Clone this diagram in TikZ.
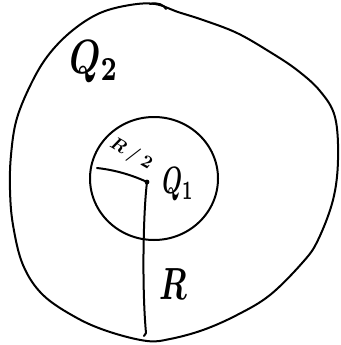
\documentclass[tikz,border=0pt]{standalone}
\begin{document}
\begin{tikzpicture}[x=1pt,y=-1pt,line width=2pt,line cap=round,line join=round,
  lbl/.style={inner sep=0pt,font=\boldmath}]
\useasboundingbox (0,0) rectangle (340,345);
% outer region
\draw plot[smooth cycle,tension=0.6] coordinates {
  (130,5) (155,4) (178,12) (203,20) (237,33) (270,52) (297,70) (320,91) (335,117)
  (338,160) (333,200) (318,240) (303,262) (270,295) (237,315) (203,330) (170,339)
  (147,341) (110,332) (77,318) (43,295) (23,265) (13,225) (10,190) (11,155) (17,118)
  (33,80) (50,53) (73,30) (100,13)};
% small overlap stroke at the top
\draw (150,4) .. controls (158,2) and (164,5) .. (166,9);
% inner circle
\coordinate (o) at (154,178.5);
\draw (o) ellipse [x radius=64, y radius=61.5];
% radii
\coordinate (c) at (147,182);
\coordinate (r) at (97,168);
\coordinate (b) at (146,333);
\fill (c) circle [radius=2.4];
\draw (r) .. controls (115,170) and (132,175) .. (c);
\draw (c) .. controls (143,215) and (142,290) .. (b) -- ++(-2,3);
% labels
\node[lbl,scale=4.8,xscale=0.75] (q2) at (94,62) {$Q_2$};
\node[lbl,rotate=-30,scale=1.8] (rh) at (131,154) {$R\mkern4mu/\mkern4mu2$};
\node[lbl,scale=3.8,xscale=0.6] (q1) at (178,184) {$Q_1$};
\node[lbl,scale=4.5,xscale=0.7] (rl) at (173,284) {$R$};
\end{tikzpicture}
\end{document}
